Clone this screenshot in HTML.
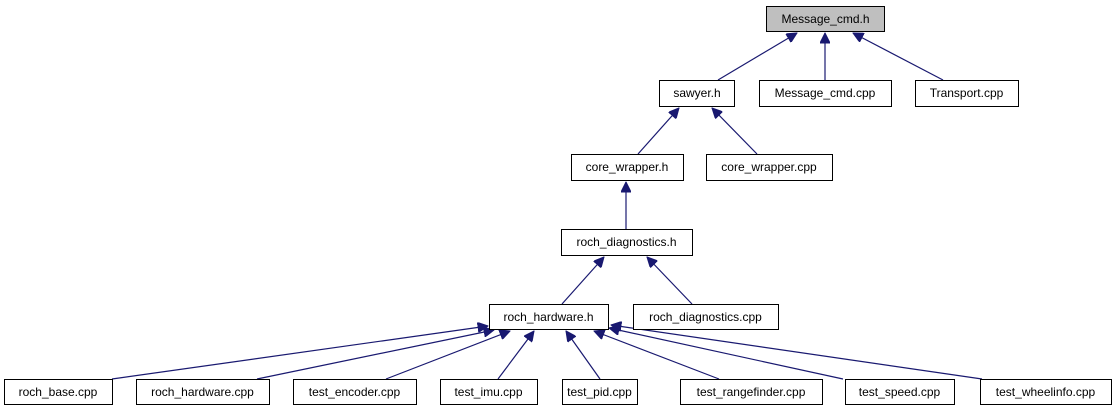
<!DOCTYPE html>
<html><head><style>
html,body{margin:0;padding:0;background:#fff;}
svg{display:block;}
text{font-family:"Liberation Sans",Arial,sans-serif;font-size:12px;fill:#000;}
</style></head><body>
<svg width="1116" height="411" viewBox="0 0 1116 411" xmlns="http://www.w3.org/2000/svg">
<defs>
<marker id="a" viewBox="0 0 10 10" refX="0" refY="5" markerWidth="11" markerHeight="10" markerUnits="userSpaceOnUse" orient="auto">
<path d="M0,5 L10,0 L10,10 Z" fill="#191970" stroke="#191970"/>
</marker>
</defs>
<g stroke="#191970" stroke-width="1.2" fill="none" marker-start="url(#a)">
<line x1="797" y1="33" x2="718" y2="80"/>
<line x1="825" y1="33" x2="825" y2="80"/>
<line x1="853" y1="33" x2="943" y2="80"/>
<line x1="679" y1="108" x2="638" y2="154"/>
<line x1="712" y1="108" x2="757" y2="154"/>
<line x1="626" y1="182" x2="626" y2="229"/>
<line x1="604" y1="257" x2="562" y2="304"/>
<line x1="647" y1="257" x2="692" y2="304"/>
<line x1="488" y1="326" x2="112" y2="379"/>
<line x1="494" y1="330" x2="257" y2="379"/>
<line x1="510" y1="331" x2="386" y2="379"/>
<line x1="534" y1="331" x2="498" y2="379"/>
<line x1="566" y1="331" x2="600" y2="379"/>
<line x1="594" y1="331" x2="719" y2="379"/>
<line x1="609" y1="328" x2="843" y2="379"/>
<line x1="611" y1="325" x2="982" y2="379"/>
</g>
<g stroke="#000" stroke-width="1" fill="#fff" transform="translate(0.5,0.5)">
<rect x="766" y="6" width="118" height="25" fill="#bfbfbf"/>
<rect x="659" y="80" width="75" height="26"/>
<rect x="759" y="80" width="132" height="26"/>
<rect x="915" y="80" width="103" height="26"/>
<rect x="571" y="154" width="112" height="26"/>
<rect x="706" y="154" width="126" height="26"/>
<rect x="561" y="229" width="131" height="26"/>
<rect x="489" y="304" width="119" height="25"/>
<rect x="633" y="304" width="145" height="25"/>
<rect x="4" y="379" width="108" height="25"/>
<rect x="136" y="379" width="133" height="25"/>
<rect x="293" y="379" width="123" height="25"/>
<rect x="440" y="379" width="97" height="25"/>
<rect x="562" y="379" width="75" height="25"/>
<rect x="680" y="379" width="142" height="25"/>
<rect x="845" y="379" width="109" height="25"/>
<rect x="980" y="379" width="131" height="25"/>
</g>
<g text-anchor="middle">
<text x="825.5" y="23">Message_cmd.h</text>
<text x="697" y="97">sawyer.h</text>
<text x="825" y="97">Message_cmd.cpp</text>
<text x="966.5" y="97">Transport.cpp</text>
<text x="627" y="171">core_wrapper.h</text>
<text x="769" y="171">core_wrapper.cpp</text>
<text x="626.5" y="246">roch_diagnostics.h</text>
<text x="548.5" y="321">roch_hardware.h</text>
<text x="705.5" y="321">roch_diagnostics.cpp</text>
<text x="58" y="396">roch_base.cpp</text>
<text x="202.5" y="396">roch_hardware.cpp</text>
<text x="354.5" y="396">test_encoder.cpp</text>
<text x="488.5" y="396">test_imu.cpp</text>
<text x="599.5" y="396">test_pid.cpp</text>
<text x="751" y="396">test_rangefinder.cpp</text>
<text x="899.5" y="396">test_speed.cpp</text>
<text x="1045.5" y="396">test_wheelinfo.cpp</text>
</g>
</svg>
</body></html>
